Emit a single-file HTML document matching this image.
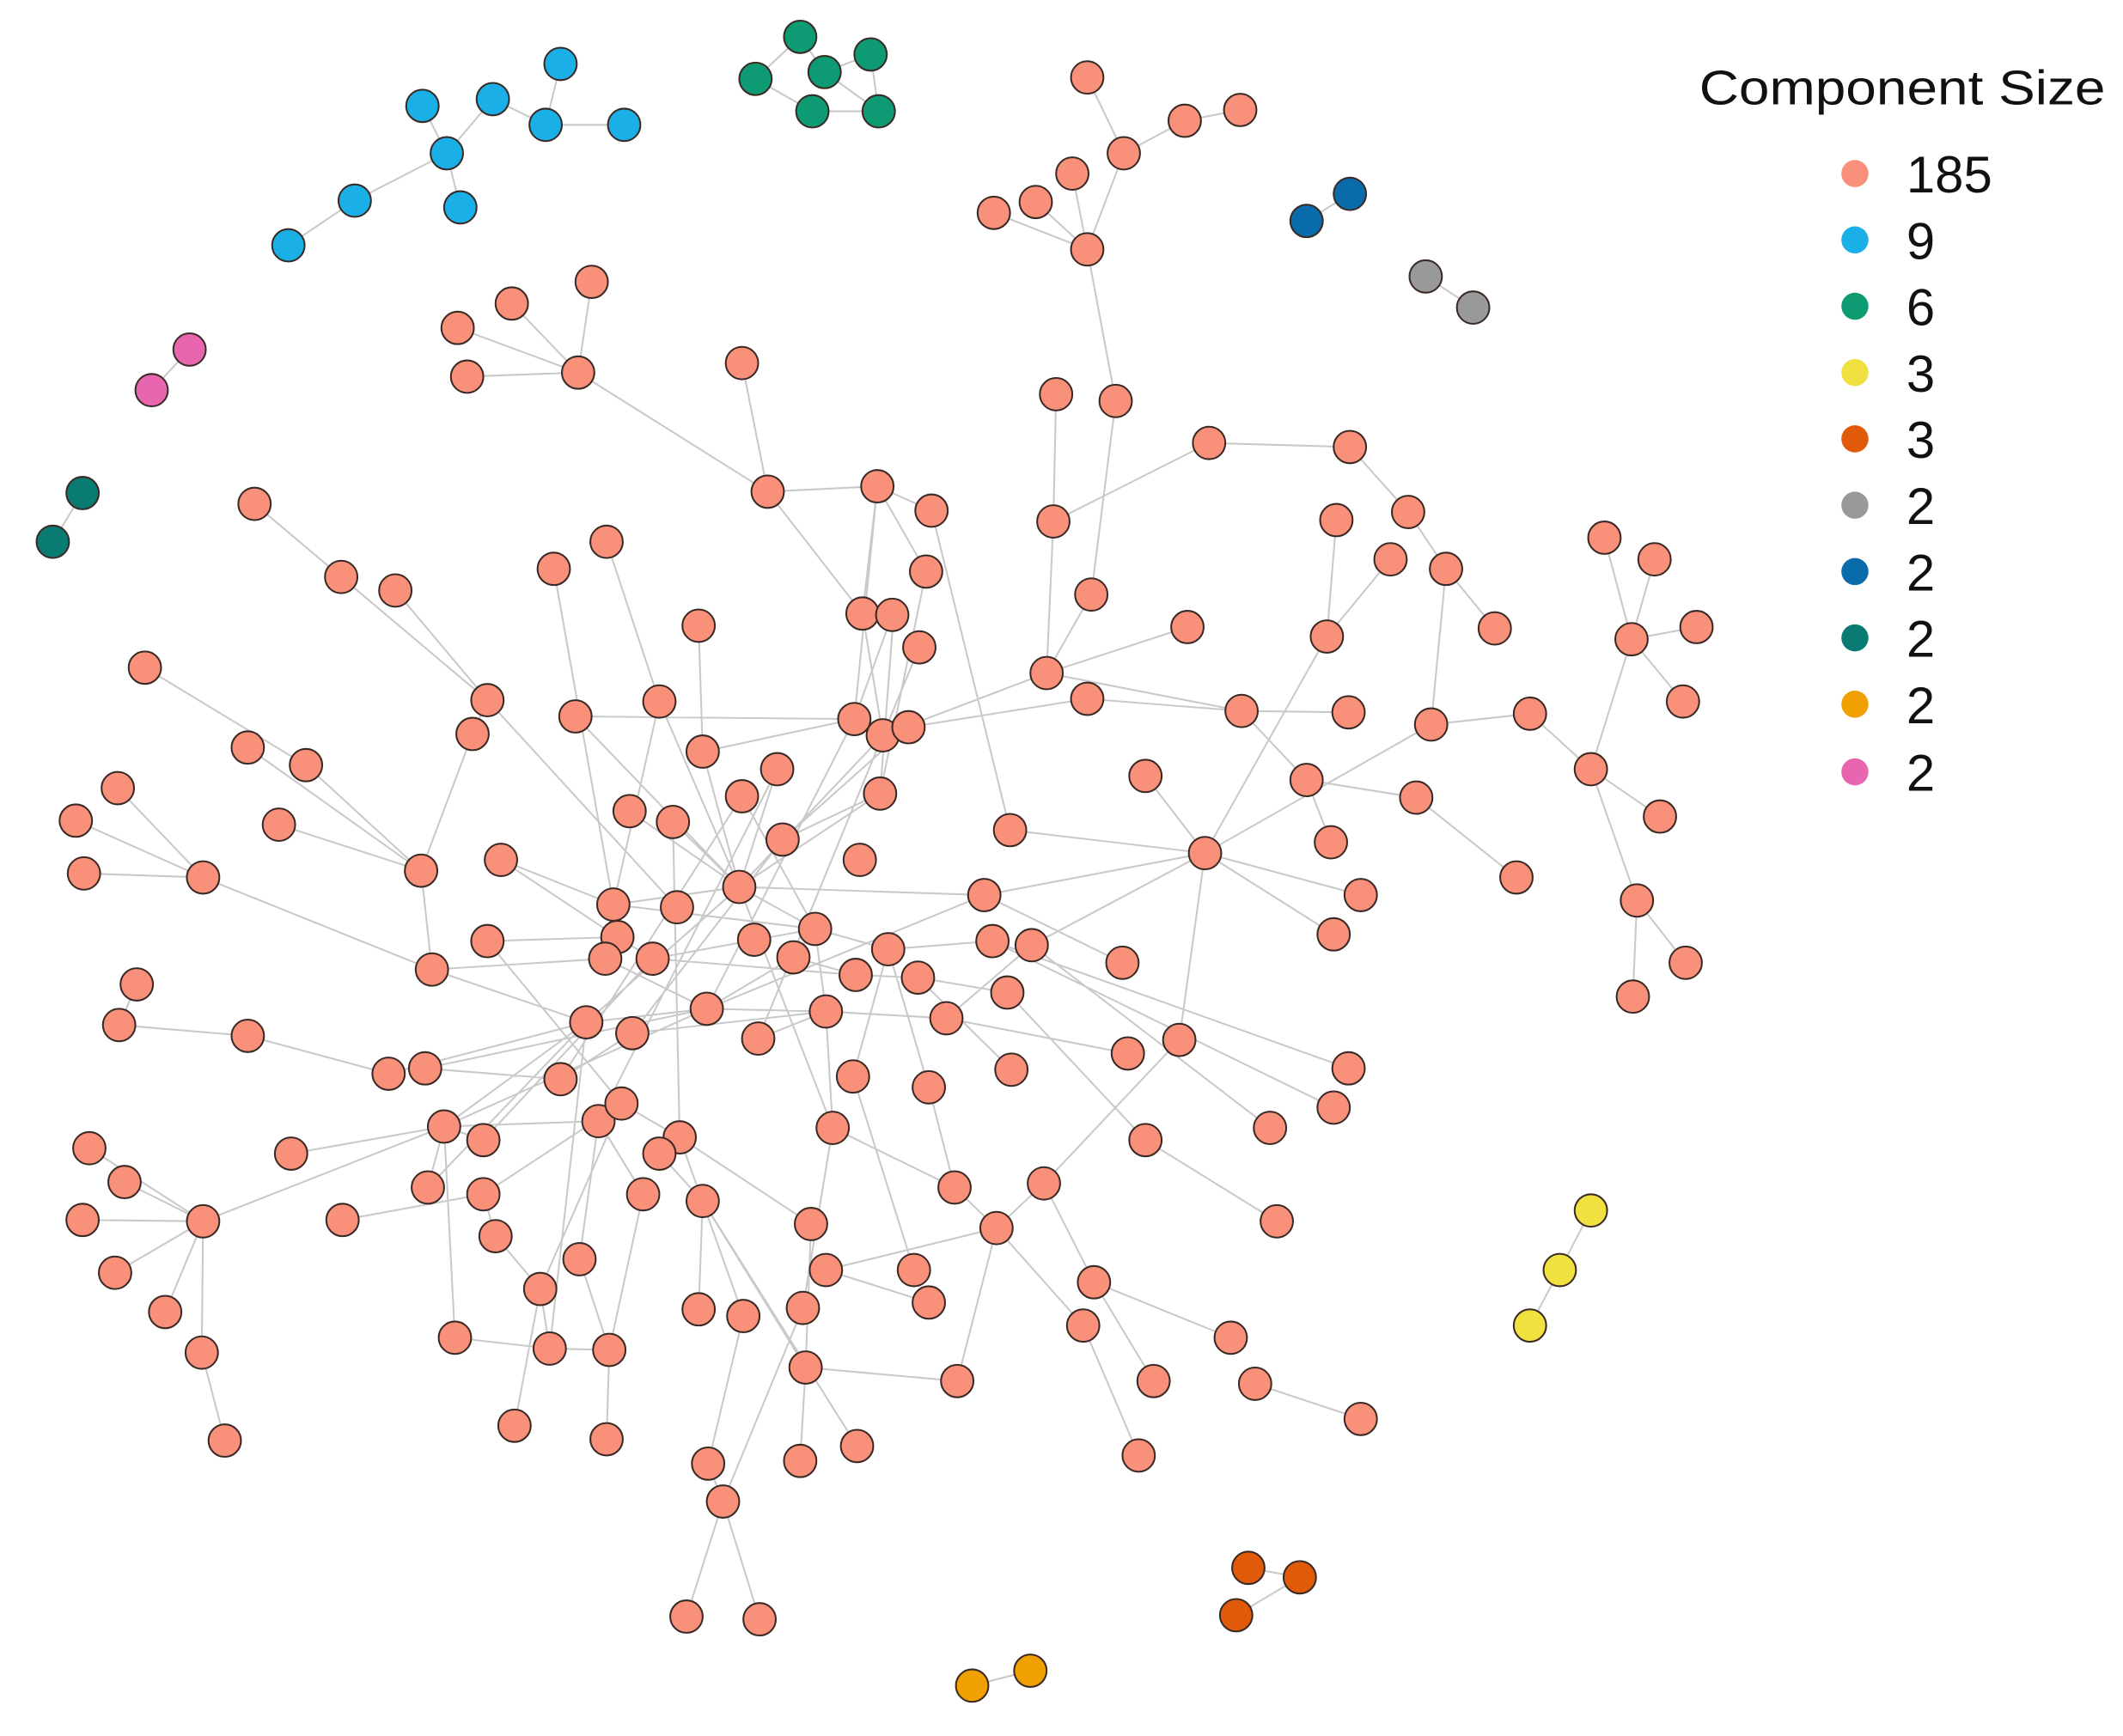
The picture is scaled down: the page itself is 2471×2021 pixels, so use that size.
<!DOCTYPE html>
<html><head><meta charset="utf-8"><style>
html,body{margin:0;padding:0;background:#fff;}
svg{display:block}
.s circle{stroke:#3a2a25;stroke-width:1.3}
text{font-family:"Liberation Sans",Arial,sans-serif;fill:#111}
</style></head><body>
<svg width="2471" height="2021" viewBox="0 0 1568 1282" xmlns="http://www.w3.org/2000/svg">
<rect width="1568" height="1282" fill="#fff"/>
<path fill="none" stroke="#c9c9c9" stroke-width="1.3" d="
M312,78L330,113M364,73L330,113M364,73L403,92M414,47L403,92M403,92L461,92M330,113L340,153M330,113L262,148M262,148L213,181
M591,27L558,58M591,27L609,53M558,58L600,82M609,53L643,40M643,40L649,82M600,82L649,82M609,53L649,82
M965,163L997,143M1053,204L1088,227M140,258L112,288M61,364L39,400M1175,894L1152,938M1152,938L1130,979M922,1158L960,1165M960,1165L913,1193M718,1245L761,1234
M803,57L830,113M830,113L875,89M875,89L916,81M830,113L803,184M792,128L803,184M765,149L803,184M734,157L803,184M803,184L824,296
M824,296L806,439M780,291L778,385M778,385L893,327M893,327L997,330M997,330L1040,378M1040,378L1068,420M1068,420L1057,535M1027,413L980,470M987,384L980,470M980,470L890,630M1057,535L890,630M1057,535L1130,527M1175,568L1205,472M1205,472L1185,397M1205,472L1222,413M1205,472L1253,463M1205,472L1243,518M1175,568L1226,603M1175,568L1209,665M1209,665L1245,711M1209,665L1206,736M1046,589L1120,648M1130,527L1175,568M1068,420L1104,464
M778,385L773,497M773,497L877,463M773,497L917,525M917,525L965,576M965,576L1046,589M917,525L996,526M803,516L917,525M965,576L983,622M890,630L1005,661M890,630L985,690M890,630L746,613M890,630L871,768M890,630L727,661M890,630L762,698M846,573L890,630
M773,497L652,543M806,439L773,497M688,377L746,613M648,359L637,453M648,359L684,422M648,359L631,531M567,363L637,453M637,453L652,543M659,454L631,531M684,422L650,586M679,478L652,543M427,275L567,363M548,268L567,363M567,363L648,359M648,359L688,377
M437,208L427,275M378,224L427,275M338,242L427,275M345,278L427,275
M631,531L519,555M631,531L425,529M671,537L803,516M652,543L546,655M650,586L578,620M574,568L546,655M548,588L602,686M519,555L546,655M497,607L546,655M465,599L546,655M487,518L546,655M546,655L453,668M546,655L602,686M546,655L727,661M602,686L586,707M602,686L656,701M602,686L610,747M602,686L482,708M586,707L522,745M586,707L632,720M632,720L678,722M656,701L733,695M678,722L744,733M699,752L762,698M699,752L833,778M699,752L610,747M610,747L522,745M610,747L560,767M610,747L615,833M610,747L467,763M522,745L433,755M522,745L447,708M482,708L456,692M456,692L360,695M453,668L370,635M447,708L319,716M433,755L328,832M467,763L414,797M414,797L314,789M442,828L459,815M459,815L502,840M502,840L487,852M502,840L599,904M502,840L549,972M487,852L519,887M475,882L442,828M442,828L428,930M433,755L406,996M459,815L399,952M615,833L593,966M615,833L705,877M630,795L656,701M686,803L705,877M705,877L736,907M736,907L771,874M771,874L871,768M771,874L808,947M736,907L707,1020M808,947L909,988M808,947L852,1020M800,979L841,1075M736,907L800,979M927,1022L1005,1048M846,842L943,902M744,733L846,842M762,698L938,833M733,695L985,818M733,695L996,789M727,661L829,711M747,790L678,722M650,586L660,454M578,620L671,537M546,655L650,586M522,745L631,531M560,767L652,543M482,708L632,720M453,668L602,686M433,755L546,655M467,763L578,620M414,797L548,588M442,828L574,568M502,840L497,607M615,833L546,655M686,803L656,701M610,747L699,752M522,745L727,661M459,815L360,695
M188,372L360,517M252,426L360,517M292,436L360,517M360,517L349,542M349,542L311,643M150,648L56,606M150,648L62,645M150,648L87,582M150,648L319,716M183,552L311,643M226,565L311,643M206,609L311,643M107,493L226,565M311,643L319,716M319,716L433,755M101,727L88,757M88,757L183,765M183,765L287,793M287,793L433,755M314,789L522,745M328,832L215,852M328,832L150,902M328,832L316,877M328,832L357,842M328,832L442,828M357,882L253,901M357,882L366,913M150,902L66,848M150,902L92,873M150,902L61,901M150,902L85,940M150,902L122,969M150,902L149,999M149,999L166,1064M328,832L336,988M366,913L399,952M399,952L380,1053M399,952L406,996M406,996L450,997M450,997L448,1063M428,930L450,997M336,988L406,996M475,882L450,997M519,887L595,1010M519,887L633,1068M599,904L595,1010M595,1010L591,1079M595,1010L707,1020M593,966L534,1109M534,1109L523,1081M534,1109L507,1194M534,1109L561,1196M516,967L519,887M549,972L523,1081M610,938L686,962M675,938L630,795M409,420L453,668M448,400L487,518M516,462L519,555M425,529L546,655M360,517L500,670M370,635L456,692M487,518L453,668M357,882L459,815M316,877L433,755M328,832L522,745M357,842L482,708M610,938L736,907"/>
<g class="s">
<g fill="#1AAFE6"><circle cx="414" cy="47" r="12"/><circle cx="312" cy="78" r="12"/><circle cx="364" cy="73" r="12"/><circle cx="403" cy="92" r="12"/><circle cx="461" cy="92" r="12"/><circle cx="330" cy="113" r="12"/><circle cx="340" cy="153" r="12"/><circle cx="262" cy="148" r="12"/><circle cx="213" cy="181" r="12"/></g>
<g fill="#0E9A72"><circle cx="591" cy="27" r="12"/><circle cx="558" cy="58" r="12"/><circle cx="609" cy="53" r="12"/><circle cx="643" cy="40" r="12"/><circle cx="600" cy="82" r="12"/><circle cx="649" cy="82" r="12"/></g>
<g fill="#0A6BAA"><circle cx="965" cy="163" r="12"/><circle cx="997" cy="143" r="12"/></g>
<g fill="#999"><circle cx="1053" cy="204" r="12"/><circle cx="1088" cy="227" r="12"/></g>
<g fill="#E866B0"><circle cx="140" cy="258" r="12"/><circle cx="112" cy="288" r="12"/></g>
<g fill="#0A7B73"><circle cx="61" cy="364" r="12"/><circle cx="39" cy="400" r="12"/></g>
<g fill="#F0E040"><circle cx="1175" cy="894" r="12"/><circle cx="1152" cy="938" r="12"/><circle cx="1130" cy="979" r="12"/></g>
<g fill="#E05A0A"><circle cx="922" cy="1158" r="12"/><circle cx="960" cy="1165" r="12"/><circle cx="913" cy="1193" r="12"/></g>
<g fill="#F0A000"><circle cx="718" cy="1245" r="12"/><circle cx="761" cy="1234" r="12"/></g>
<g fill="#F8907A">
<circle cx="803" cy="57" r="12"/><circle cx="875" cy="89" r="12"/><circle cx="916" cy="81" r="12"/><circle cx="830" cy="113" r="12"/><circle cx="792" cy="128" r="12"/><circle cx="765" cy="149" r="12"/><circle cx="734" cy="157" r="12"/><circle cx="803" cy="184" r="12"/>
<circle cx="437" cy="208" r="12"/><circle cx="378" cy="224" r="12"/><circle cx="338" cy="242" r="12"/><circle cx="345" cy="278" r="12"/><circle cx="427" cy="275" r="12"/><circle cx="548" cy="268" r="12"/><circle cx="567" cy="363" r="12"/>
<circle cx="780" cy="291" r="12"/><circle cx="824" cy="296" r="12"/><circle cx="778" cy="385" r="12"/><circle cx="893" cy="327" r="12"/><circle cx="997" cy="330" r="12"/><circle cx="1040" cy="378" r="12"/><circle cx="987" cy="384" r="12"/><circle cx="1027" cy="413" r="12"/><circle cx="1068" cy="420" r="12"/><circle cx="1104" cy="464" r="12"/><circle cx="980" cy="470" r="12"/><circle cx="877" cy="463" r="12"/><circle cx="917" cy="525" r="12"/><circle cx="996" cy="526" r="12"/><circle cx="1057" cy="535" r="12"/><circle cx="1130" cy="527" r="12"/><circle cx="1175" cy="568" r="12"/><circle cx="1185" cy="397" r="12"/><circle cx="1222" cy="413" r="12"/><circle cx="1205" cy="472" r="12"/><circle cx="1253" cy="463" r="12"/><circle cx="1243" cy="518" r="12"/><circle cx="1226" cy="603" r="12"/><circle cx="1209" cy="665" r="12"/><circle cx="1245" cy="711" r="12"/><circle cx="1206" cy="736" r="12"/><circle cx="1046" cy="589" r="12"/><circle cx="1120" cy="648" r="12"/><circle cx="965" cy="576" r="12"/><circle cx="983" cy="622" r="12"/><circle cx="1005" cy="661" r="12"/><circle cx="985" cy="690" r="12"/><circle cx="890" cy="630" r="12"/><circle cx="846" cy="573" r="12"/><circle cx="746" cy="613" r="12"/><circle cx="727" cy="661" r="12"/><circle cx="733" cy="695" r="12"/><circle cx="762" cy="698" r="12"/><circle cx="744" cy="733" r="12"/><circle cx="829" cy="711" r="12"/><circle cx="833" cy="778" r="12"/><circle cx="871" cy="768" r="12"/><circle cx="747" cy="790" r="12"/><circle cx="686" cy="803" r="12"/><circle cx="699" cy="752" r="12"/><circle cx="678" cy="722" r="12"/><circle cx="656" cy="701" r="12"/><circle cx="632" cy="720" r="12"/><circle cx="602" cy="686" r="12"/><circle cx="586" cy="707" r="12"/><circle cx="610" cy="747" r="12"/><circle cx="557" cy="694" r="12"/><circle cx="546" cy="655" r="12"/><circle cx="578" cy="620" r="12"/><circle cx="635" cy="635" r="12"/><circle cx="650" cy="586" r="12"/><circle cx="652" cy="543" r="12"/><circle cx="671" cy="537" r="12"/><circle cx="631" cy="531" r="12"/><circle cx="574" cy="568" r="12"/><circle cx="548" cy="588" r="12"/><circle cx="519" cy="555" r="12"/><circle cx="497" cy="607" r="12"/><circle cx="465" cy="599" r="12"/><circle cx="487" cy="518" r="12"/><circle cx="425" cy="529" r="12"/><circle cx="360" cy="517" r="12"/><circle cx="349" cy="542" r="12"/><circle cx="516" cy="462" r="12"/><circle cx="409" cy="420" r="12"/><circle cx="448" cy="400" r="12"/><circle cx="637" cy="453" r="12"/><circle cx="659" cy="454" r="12"/><circle cx="684" cy="422" r="12"/><circle cx="688" cy="377" r="12"/><circle cx="648" cy="359" r="12"/><circle cx="679" cy="478" r="12"/><circle cx="806" cy="439" r="12"/><circle cx="773" cy="497" r="12"/><circle cx="803" cy="516" r="12"/>
<circle cx="188" cy="372" r="12"/><circle cx="252" cy="426" r="12"/><circle cx="292" cy="436" r="12"/><circle cx="107" cy="493" r="12"/><circle cx="183" cy="552" r="12"/><circle cx="226" cy="565" r="12"/><circle cx="206" cy="609" r="12"/><circle cx="87" cy="582" r="12"/><circle cx="56" cy="606" r="12"/><circle cx="62" cy="645" r="12"/><circle cx="150" cy="648" r="12"/><circle cx="311" cy="643" r="12"/><circle cx="370" cy="635" r="12"/><circle cx="360" cy="695" r="12"/><circle cx="319" cy="716" r="12"/><circle cx="453" cy="668" r="12"/><circle cx="456" cy="692" r="12"/><circle cx="447" cy="708" r="12"/><circle cx="482" cy="708" r="12"/><circle cx="500" cy="670" r="12"/><circle cx="522" cy="745" r="12"/><circle cx="433" cy="755" r="12"/><circle cx="467" cy="763" r="12"/><circle cx="414" cy="797" r="12"/><circle cx="442" cy="828" r="12"/><circle cx="459" cy="815" r="12"/><circle cx="502" cy="840" r="12"/><circle cx="487" cy="852" r="12"/><circle cx="560" cy="767" r="12"/><circle cx="615" cy="833" r="12"/><circle cx="630" cy="795" r="12"/><circle cx="101" cy="727" r="12"/><circle cx="88" cy="757" r="12"/><circle cx="183" cy="765" r="12"/><circle cx="287" cy="793" r="12"/><circle cx="314" cy="789" r="12"/><circle cx="328" cy="832" r="12"/><circle cx="357" cy="842" r="12"/><circle cx="215" cy="852" r="12"/><circle cx="66" cy="848" r="12"/><circle cx="92" cy="873" r="12"/><circle cx="61" cy="901" r="12"/><circle cx="150" cy="902" r="12"/><circle cx="85" cy="940" r="12"/><circle cx="122" cy="969" r="12"/><circle cx="149" cy="999" r="12"/><circle cx="166" cy="1064" r="12"/><circle cx="253" cy="901" r="12"/><circle cx="316" cy="877" r="12"/><circle cx="357" cy="882" r="12"/><circle cx="366" cy="913" r="12"/><circle cx="399" cy="952" r="12"/><circle cx="428" cy="930" r="12"/><circle cx="475" cy="882" r="12"/><circle cx="519" cy="887" r="12"/><circle cx="599" cy="904" r="12"/><circle cx="610" cy="938" r="12"/><circle cx="675" cy="938" r="12"/><circle cx="705" cy="877" r="12"/><circle cx="736" cy="907" r="12"/><circle cx="771" cy="874" r="12"/><circle cx="846" cy="842" r="12"/><circle cx="938" cy="833" r="12"/><circle cx="985" cy="818" r="12"/><circle cx="996" cy="789" r="12"/><circle cx="943" cy="902" r="12"/><circle cx="808" cy="947" r="12"/><circle cx="800" cy="979" r="12"/><circle cx="852" cy="1020" r="12"/><circle cx="909" cy="988" r="12"/><circle cx="927" cy="1022" r="12"/><circle cx="1005" cy="1048" r="12"/><circle cx="841" cy="1075" r="12"/><circle cx="707" cy="1020" r="12"/><circle cx="686" cy="962" r="12"/><circle cx="593" cy="966" r="12"/><circle cx="549" cy="972" r="12"/><circle cx="516" cy="967" r="12"/><circle cx="595" cy="1010" r="12"/><circle cx="633" cy="1068" r="12"/><circle cx="591" cy="1079" r="12"/><circle cx="523" cy="1081" r="12"/><circle cx="534" cy="1109" r="12"/><circle cx="507" cy="1194" r="12"/><circle cx="561" cy="1196" r="12"/><circle cx="448" cy="1063" r="12"/><circle cx="380" cy="1053" r="12"/><circle cx="406" cy="996" r="12"/><circle cx="450" cy="997" r="12"/><circle cx="336" cy="988" r="12"/>
</g>
</g>
<text x="1255" y="77" font-size="36" textLength="300" lengthAdjust="spacingAndGlyphs">Component Size</text>
<g stroke="none">
<circle cx="1370" cy="128" r="10" fill="#F8907A"/><circle cx="1370" cy="177" r="10" fill="#1AAFE6"/><circle cx="1370" cy="226" r="10" fill="#0E9A72"/><circle cx="1370" cy="275" r="10" fill="#F0E040"/><circle cx="1370" cy="324" r="10" fill="#E05A0A"/><circle cx="1370" cy="373" r="10" fill="#999"/><circle cx="1370" cy="422" r="10" fill="#0A6BAA"/><circle cx="1370" cy="471" r="10" fill="#0A7B73"/><circle cx="1370" cy="520" r="10" fill="#F0A000"/><circle cx="1370" cy="570" r="10" fill="#E866B0"/>
</g>
<g font-size="38">
<text x="1408" y="142">185</text><text x="1408" y="191">9</text><text x="1408" y="240">6</text><text x="1408" y="289">3</text><text x="1408" y="338">3</text><text x="1408" y="387">2</text><text x="1408" y="436">2</text><text x="1408" y="485">2</text><text x="1408" y="534">2</text><text x="1408" y="584">2</text>
</g>
</svg>
</body></html>
